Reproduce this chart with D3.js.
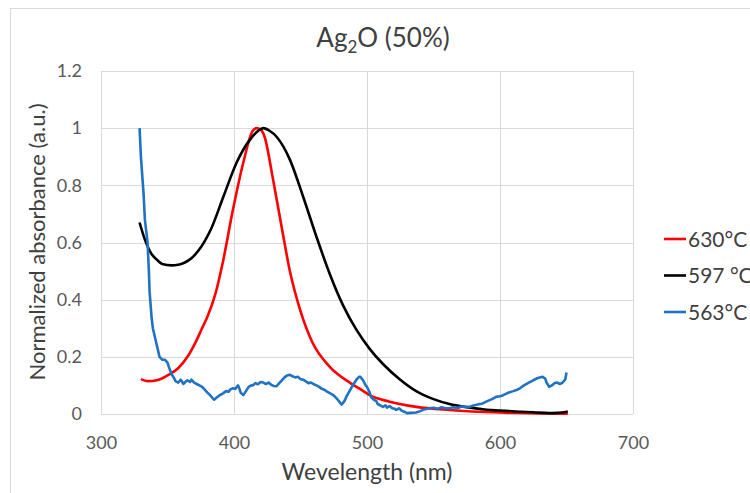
<!DOCTYPE html>
<html>
<head>
<meta charset="utf-8">
<script src="https://cdn.jsdelivr.net/npm/d3@7"></script>
<style>
  body { margin: 0; background: #fff; }
  text { font-family: Lato, "Open Sans", sans-serif; }
</style>
</head>
<body>
<div id="chart"></div>
<script>
var width = 750,
    height = 493;

// wavelength (nm) / normalized absorbance
var red630 = [
  [330, 0.122], [335, 0.115], [342, 0.118], [350, 0.135], [358, 0.16], [365, 0.2],
  [371, 0.25], [376, 0.3], [380, 0.34], [386, 0.42], [392, 0.54], [399, 0.71],
  [407, 0.88], [414, 0.99], [417, 1.0], [420, 0.995], [423, 0.97], [429, 0.83],
  [436, 0.65], [442, 0.5], [450, 0.36], [459, 0.25], [472, 0.165], [487, 0.11],
  [495, 0.087], [502, 0.066], [517, 0.043], [537, 0.025], [562, 0.014], [600, 0.005],
  [630, 0.002], [651, 0.001]
];

var black597 = [
  [329, 0.67], [333, 0.61], [338, 0.56], [342, 0.54], [346, 0.525], [353, 0.52],
  [358, 0.522], [363, 0.53], [368, 0.545], [373, 0.57], [378, 0.605], [383, 0.65],
  [392, 0.76], [402, 0.88], [412, 0.96], [418, 0.99], [422, 1.0], [427, 0.99],
  [432, 0.97], [442, 0.89], [452, 0.76], [462, 0.62], [472, 0.49], [482, 0.38],
  [492, 0.295], [502, 0.228], [512, 0.175], [525, 0.12], [537, 0.08], [550, 0.052],
  [562, 0.035], [575, 0.024], [590, 0.015], [600, 0.012], [615, 0.008], [625, 0.006],
  [637, 0.003], [643, 0.004], [648, 0.006], [651, 0.009]
];

var blue563 = [
  [329, 1.0], [330, 0.9], [332, 0.77], [333, 0.68], [335, 0.6], [336, 0.5],
  [336.5, 0.43], [338, 0.34], [339, 0.3], [341, 0.26], [343, 0.22], [344, 0.2],
  [346, 0.19], [348, 0.19], [350, 0.18], [351, 0.165], [353, 0.14], [355, 0.125],
  [356, 0.115], [358, 0.11], [360, 0.12], [362, 0.105], [363, 0.11], [365, 0.118],
  [367, 0.112], [368, 0.12], [370, 0.11], [372, 0.105], [374, 0.1], [376, 0.095],
  [378, 0.085], [380, 0.075], [382, 0.066], [384, 0.055], [385, 0.05], [387, 0.058],
  [389, 0.065], [391, 0.07], [392, 0.073], [394, 0.08], [396, 0.078], [397, 0.085],
  [399, 0.09], [401, 0.088], [403, 0.1], [404, 0.09], [405, 0.075], [407, 0.066],
  [409, 0.08], [411, 0.095], [413, 0.1], [414, 0.1], [416, 0.108], [418, 0.104],
  [420, 0.112], [422, 0.11], [424, 0.105], [426, 0.11], [428, 0.102], [430, 0.098],
  [432, 0.097], [434, 0.108], [436, 0.118], [438, 0.128], [440, 0.135], [442, 0.137],
  [444, 0.132], [446, 0.128], [448, 0.13], [450, 0.122], [452, 0.12], [454, 0.114],
  [456, 0.108], [458, 0.11], [460, 0.104], [462, 0.1], [464, 0.095], [466, 0.088],
  [468, 0.085], [470, 0.078], [472, 0.073], [474, 0.068], [476, 0.06], [478, 0.05],
  [480, 0.038], [481, 0.033], [483, 0.045], [485, 0.065], [486, 0.073], [488, 0.09],
  [490, 0.105], [492, 0.12], [494, 0.13], [495, 0.13], [497, 0.118], [499, 0.1],
  [500, 0.095], [502, 0.075], [503, 0.06], [505, 0.05], [507, 0.045], [508, 0.035],
  [510, 0.03], [512, 0.025], [514, 0.03], [515, 0.022], [517, 0.028], [519, 0.02],
  [521, 0.018], [522, 0.014], [524, 0.02], [526, 0.012], [528, 0.008], [530, 0.003],
  [533, 0.004], [537, 0.005], [540, 0.01], [543, 0.016], [547, 0.02], [550, 0.022],
  [553, 0.018], [556, 0.024], [559, 0.02], [562, 0.02], [565, 0.024], [568, 0.02],
  [571, 0.026], [574, 0.024], [577, 0.025], [580, 0.03], [584, 0.034], [587, 0.037],
  [590, 0.044], [594, 0.052], [597, 0.06], [600, 0.062], [602, 0.065], [606, 0.074],
  [610, 0.08], [613, 0.085], [615, 0.09], [618, 0.1], [621, 0.108], [625, 0.118],
  [628, 0.125], [630, 0.128], [632, 0.13], [634, 0.124], [635, 0.11], [637, 0.095],
  [639, 0.1], [641, 0.108], [643, 0.11], [645, 0.105], [647, 0.11], [649, 0.12],
  [650, 0.145]
];

var seriesNames = ["630°C", "597 °C", "563°C"];
var seriesColors = ["#ff0000", "#000000", "#1f72c4"];
var seriesData = [red630, black597, blue563];

var xTicks = [300, 400, 500, 600, 700];
var yTicks = [0, 0.2, 0.4, 0.6, 0.8, 1, 1.2];

var plot = {left: 101, right: 633, top: 71, bottom: 414};

var x = d3.scaleLinear().domain([300, 700]).range([plot.left, plot.right]);
var y = d3.scaleLinear().domain([0, 1.2]).range([plot.bottom, plot.top]);

var svg = d3.select("#chart").append("svg")
  .attr("width", width)
  .attr("height", height);

svg.append("rect")
  .attr("width", width).attr("height", height)
  .attr("fill", "#fff");

// outer chart frame
svg.append("rect")
  .attr("x", 10.5).attr("y", 8.5)
  .attr("width", 900).attr("height", 900)
  .attr("fill", "none")
  .attr("stroke", "#d9d9d9");

// gridlines
svg.append("g")
  .selectAll("line")
  .data(xTicks)
  .join("line")
  .attr("x1", d => Math.round(x(d)) + 0.5).attr("x2", d => Math.round(x(d)) + 0.5)
  .attr("y1", plot.top).attr("y2", plot.bottom)
  .attr("stroke", "#d9d9d9");

svg.append("g")
  .selectAll("line")
  .data(yTicks)
  .join("line")
  .attr("x1", plot.left).attr("x2", plot.right)
  .attr("y1", d => Math.round(y(d)) + 0.5).attr("y2", d => Math.round(y(d)) + 0.5)
  .attr("stroke", "#d9d9d9");

// tick labels via d3 axes, lines hidden
svg.append("g")
  .attr("transform", "translate(0," + plot.bottom + ")")
  .call(d3.axisBottom(x).tickValues(xTicks).tickSize(0).tickPadding(22).tickFormat(d3.format("d")));

svg.append("g")
  .attr("transform", "translate(" + plot.left + ",0)")
  .call(d3.axisLeft(y).tickValues(yTicks).tickSize(0).tickPadding(19).tickFormat(d => d === 0 || d === 1 ? d : d3.format(".1f")(d)));

svg.selectAll(".domain").remove();
svg.selectAll(".tick text")
  .attr("font-family", "Lato, 'Open Sans', sans-serif")
  .attr("font-size", 18)
  .attr("fill", "#595959");

// curves
var line = d3.line()
  .x(d => x(d[0]))
  .y(d => y(d[1]));

svg.append("g")
  .selectAll("path")
  .data(seriesData)
  .join("path")
  .attr("d", (d, i) => line.curve(i < 2 ? d3.curveMonotoneX : d3.curveLinear)(d))
  .attr("fill", "none")
  .attr("stroke", (d, i) => seriesColors[i])
  .attr("stroke-width", 2.6)
  .attr("stroke-linejoin", "round");

// title
var title = svg.append("text")
  .attr("x", 383).attr("y", 47)
  .attr("text-anchor", "middle")
  .attr("font-size", 26)
  .attr("fill", "#404040");
title.append("tspan").text("Ag");
title.append("tspan").attr("font-size", 17).attr("dy", 6).text("2");
title.append("tspan").attr("dy", -6).text("O (50%)");

svg.append("text")
  .attr("x", (plot.left + plot.right) / 2).attr("y", 480)
  .attr("text-anchor", "middle")
  .attr("font-size", 23)
  .attr("fill", "#404040")
  .text("Wevelength (nm)");

svg.append("text")
  .attr("transform", "translate(45,242) rotate(-90)")
  .attr("text-anchor", "middle")
  .attr("font-size", 22)
  .attr("fill", "#404040")
  .text("Normalized absorbance (a.u.)");

// legend
var legend = svg.append("g")
  .selectAll("g")
  .data(seriesNames)
  .join("g")
  .attr("transform", (d, i) => "translate(664," + (239 + i * 36.5) + ")");

legend.append("line")
  .attr("x1", 0).attr("x2", 22)
  .attr("stroke", (d, i) => seriesColors[i])
  .attr("stroke-width", 2.6);

legend.append("text")
  .attr("x", 24).attr("dy", "0.36em")
  .attr("font-size", 21)
  .attr("fill", "#404040")
  .text(d => d);
</script>
</body>
</html>
